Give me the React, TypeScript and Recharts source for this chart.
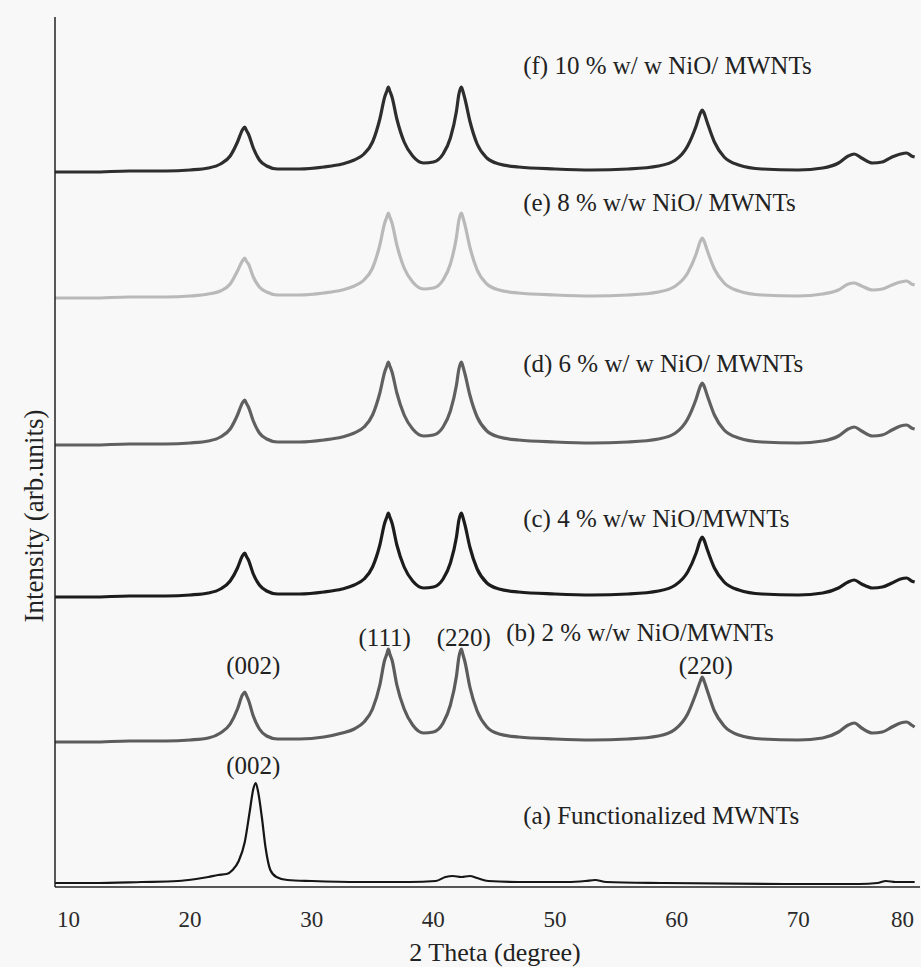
import React from "react";
import { LineChart, Line, XAxis, YAxis, ReferenceDot } from "recharts";

const SERIF = '"Liberation Serif", "Times New Roman", serif';

// 2θ (degree) grid shared by the NiO/MWNT composite scans
const thetaNiO = [
    8.9, 12, 15, 18, 20, 21.5, 22.5, 23.3, 23.9, 24.3,
    24.5, 24.62, 24.8, 25.2, 25.7, 26.3, 27.2, 29, 31, 32.5,
    33.5, 34.3, 35.0, 35.6, 36.0, 36.18, 36.3, 36.42, 36.6, 37.0,
    37.6, 38.3, 39.2, 40.0, 40.8, 41.4, 41.9, 42.1, 42.3, 42.42,
    42.6, 43.0, 43.6, 44.4, 45.4, 47, 50, 53, 56, 58.5,
    59.9, 60.9, 61.6, 61.95, 62.1, 62.25, 62.5, 63.1, 63.9, 65.1,
    67, 70, 72, 73.3, 74.1, 74.6, 75.2, 76.1, 76.9, 77.7,
    78.4, 78.9, 79.3, 79.56,
];

// stacked intensities (arb. units), each scan sits on its own offset
const nio2 = [
    145, 145, 146, 146, 147, 149, 154, 163, 178, 192,
    195, 192, 187, 171, 158, 151, 148, 148, 150, 154,
    158, 165, 178, 202, 227, 233, 238, 233, 227, 202,
    178, 162, 154, 155, 164, 182, 211, 230, 238, 233,
    225, 200, 176, 160, 153, 150, 148, 147, 148, 151,
    158, 173, 194, 206, 210, 206, 197, 176, 161, 152,
    148, 147, 149, 155, 162, 164, 159, 154, 155, 160,
    164, 165, 162, 160,
];
const nio4 = [
    290, 290, 291, 291, 292, 294, 298, 306, 319, 331,
    334, 331, 327, 313, 302, 296, 293, 293, 295, 298,
    302, 308, 320, 342, 364, 370, 374, 370, 364, 342,
    320, 306, 299, 300, 308, 324, 350, 367, 374, 370,
    362, 340, 318, 304, 298, 295, 293, 292, 293, 296,
    302, 315, 334, 347, 350, 347, 338, 319, 305, 297,
    293, 292, 294, 299, 305, 307, 303, 299, 300, 304,
    308, 309, 306, 305,
];
const nio6 = [
    442, 442, 443, 443, 444, 446, 450, 458, 472, 484,
    487, 484, 480, 466, 454, 448, 445, 445, 447, 450,
    454, 460, 472, 494, 515, 521, 525, 521, 515, 494,
    472, 458, 451, 452, 460, 476, 502, 518, 525, 521,
    513, 492, 470, 456, 450, 447, 445, 444, 445, 448,
    454, 468, 488, 501, 504, 501, 492, 472, 457, 449,
    445, 444, 446, 451, 458, 460, 456, 451, 452, 457,
    461, 462, 459, 458,
];
const nio8 = [
    589, 589, 590, 590, 591, 593, 596, 603, 616, 626,
    629, 626, 623, 610, 600, 595, 592, 592, 594, 597,
    601, 607, 619, 642, 664, 670, 674, 670, 664, 642,
    619, 605, 598, 599, 607, 623, 650, 667, 674, 670,
    662, 640, 617, 603, 597, 594, 592, 591, 592, 595,
    601, 614, 633, 646, 649, 646, 637, 618, 604, 596,
    592, 591, 593, 597, 603, 604, 601, 597, 598, 602,
    605, 606, 603, 602,
];
const nio10 = [
    715, 715, 716, 716, 717, 719, 723, 731, 745, 757,
    760, 757, 753, 739, 727, 721, 718, 718, 720, 723,
    727, 733, 745, 768, 790, 796, 800, 796, 790, 768,
    745, 731, 724, 725, 733, 749, 776, 793, 800, 796,
    788, 766, 743, 729, 723, 720, 718, 717, 718, 721,
    727, 741, 761, 774, 777, 774, 765, 745, 730, 722,
    718, 717, 719, 724, 731, 733, 729, 724, 725, 730,
    733, 734, 731, 730,
];

// functionalized MWNTs (bottom scan)
const thetaMWNT = [
    8.9, 12, 16, 19, 20.5, 21.5, 22.3, 23.0, 23.5, 24.0,
    24.5, 24.9, 25.2, 25.4, 25.6, 25.9, 26.2, 26.6, 27.1, 28,
    30, 34, 38, 40.2, 41.0, 41.6, 42.3, 43.0, 43.6, 44.5,
    47, 51, 52.5, 53.3, 54.2, 59, 69, 75, 76.5, 77.2,
    78, 79.56,
];
const mwnt = [
    4, 4, 5, 6, 8, 10, 12, 13, 17, 26,
    45, 75, 98, 104, 95, 70, 40, 17, 10, 7,
    6, 5, 5, 6, 10, 11, 10, 11, 9, 6,
    5, 5, 6, 7, 5, 4, 3, 3, 4, 6,
    5, 5,
];

const xTicks = [10, 20, 30, 40, 50, 60, 70, 80];

const seriesLabels = [
    { text: "(f) 10 % w/ w NiO/ MWNTs", theta: 47.3, value: 822 },
    { text: "(e) 8 % w/w NiO/ MWNTs", theta: 47.3, value: 685 },
    { text: "(d) 6 % w/ w NiO/ MWNTs", theta: 47.3, value: 524 },
    { text: "(c) 4 % w/w NiO/MWNTs", theta: 47.3, value: 369 },
    { text: "(b) 2 % w/w NiO/MWNTs", theta: 45.9, value: 255 },
    { text: "(a) Functionalized MWNTs", theta: 47.3, value: 72 },
];

const peakLabels = [
    { text: "(002)", theta: 25.2, value: 222 },
    { text: "(111)", theta: 36.0, value: 250 },
    { text: "(220)", theta: 42.5, value: 250 },
    { text: "(220)", theta: 62.4, value: 222 },
    { text: "(002)", theta: 25.2, value: 122 },
];

const toPoints = (thetas: number[], values: number[]) =>
    thetas.map((theta, i) => ({ theta, v: values[i] }));

const scans = [
    { key: "a", data: toPoints(thetaMWNT, mwnt), color: "#161616", width: 2.2 },
    { key: "b", data: toPoints(thetaNiO, nio2), color: "#5c5c5c", width: 3.2 },
    { key: "c", data: toPoints(thetaNiO, nio4), color: "#1c1c1c", width: 3.2 },
    { key: "d", data: toPoints(thetaNiO, nio6), color: "#606060", width: 3.2 },
    { key: "e", data: toPoints(thetaNiO, nio8), color: "#b9b9b9", width: 3.2 },
    { key: "f", data: toPoints(thetaNiO, nio10), color: "#2e2e2e", width: 3.2 },
];

const TickLabel = (props: any) => {
    const { x, y, payload } = props;
    const last = payload.value === 80;
    return (
        <text
            x={last ? x + 1 : x}
            y={y}
            dy="0.71em"
            textAnchor={last ? "end" : "middle"}
            fontFamily={SERIF}
            fontSize={23}
            fill="#2a2a2a"
        >
            {payload.value}
        </text>
    );
};

const XTitle = () => (
    <text x={495} y={961} textAnchor="middle" fontFamily={SERIF} fontSize={26} fill="#222">
        2 Theta (degree)
    </text>
);

const YTitle = () => (
    <text
        transform="translate(43, 516) rotate(-90)"
        textAnchor="middle"
        fontFamily={SERIF}
        fontSize={27}
        fill="#222"
    >
        Intensity (arb.units)
    </text>
);

const textStyle = { fontFamily: SERIF, fill: "#222" };

export default function App() {
    return (
        <div style={{ position: "absolute", left: 0, top: 0, width: 921, height: 967, background: "#f8f8f8" }}>
            <LineChart width={921} height={967} margin={{ top: 17, right: 1, left: 0, bottom: 0 }}>
                <XAxis
                    dataKey="theta"
                    type="number"
                    domain={[8.9, 80]}
                    ticks={xTicks}
                    allowDataOverflow
                    height={80}
                    tickLine={false}
                    tickSize={0}
                    tickMargin={24}
                    axisLine={{ stroke: "#222", strokeWidth: 1.5 }}
                    tick={(p: any) => <TickLabel {...p} />}
                    label={<XTitle />}
                />
                <YAxis
                    type="number"
                    domain={[0, 870]}
                    width={55}
                    tick={false}
                    tickLine={false}
                    axisLine={{ stroke: "#222", strokeWidth: 1.5 }}
                    label={<YTitle />}
                />
                {scans.map((s) => (
                    <Line
                        key={s.key}
                        data={s.data}
                        dataKey="v"
                        type="monotone"
                        stroke={s.color}
                        strokeWidth={s.width}
                        strokeLinejoin="round"
                        dot={false}
                        activeDot={false}
                        isAnimationActive={false}
                    />
                ))}
                {seriesLabels.map((l) => (
                    <ReferenceDot
                        key={l.text}
                        x={l.theta}
                        y={l.value}
                        r={1}
                        fill="none"
                        stroke="none"
                        label={{ value: l.text, position: "right", offset: 0, fontSize: 25, ...textStyle }}
                    />
                ))}
                {peakLabels.map((l, i) => (
                    <ReferenceDot
                        key={`peak-${i}`}
                        x={l.theta}
                        y={l.value}
                        r={1}
                        fill="none"
                        stroke="none"
                        label={{ value: l.text, position: "center", fontSize: 25, ...textStyle }}
                    />
                ))}
            </LineChart>
        </div>
    );
}
